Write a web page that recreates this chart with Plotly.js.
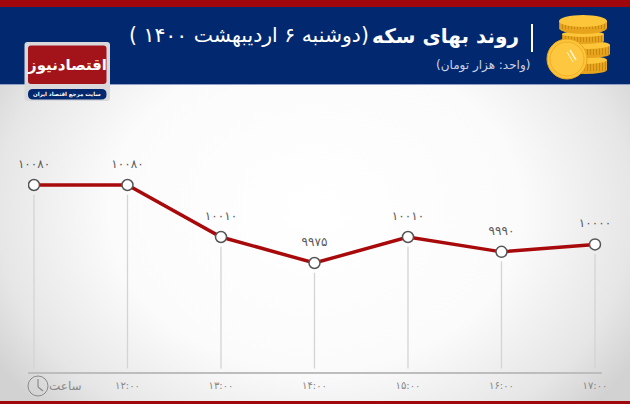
<!DOCTYPE html>
<html>
<head>
<meta charset="utf-8">
<script src="https://cdn.plot.ly/plotly-3.0.1.min.js"></script>
<style>
    html, body { margin: 0; padding: 0; }
    body {
        width: 630px;
        height: 404px;
        overflow: hidden;
        background: radial-gradient(ellipse 375px 290px at 50% 52%, #ffffff 0%, #fbfbfb 55%, #e6e6e6 85%, #d2d2d2 100%);
    }
    #myPlot { width: 630px; height: 404px; }
    .textpoint text { letter-spacing: 3px; font-weight: bold; }
</style>
</head>
<body>
<div id="myPlot"></div>
<script>
// chart values
const hours = [0, 1, 2, 3, 4, 5, 6];
const hourLabels = ['', '۱۲:۰۰', '۱۳:۰۰', '۱۴:۰۰', '۱۵:۰۰', '۱۶:۰۰', '۱۷:۰۰'];
const prices = [10080, 10080, 10010, 9975, 10010, 9990, 10000];
const priceLabels = ['۱۰۰۸۰', '۱۰۰۸۰', '۱۰۰۱۰', '۹۹۷۵', '۱۰۰۱۰', '۹۹۹۰', '۱۰۰۰۰'];

const FONT = '"DejaVu Sans", "Noto Sans", sans-serif';
const Y_MIN = 9828.3;
const STEM_BOTTOM = 9833;
const STEM_GAP = 13; // stems stop a little under the marker
const LABEL_LIFT = 27; // labels sit this far over the point

// page pixels to paper coordinates of the plot area
const PLOT_L = 28, PLOT_R = 602, PLOT_T = 100, PLOT_B = 372;
const px = (x) => (x - PLOT_L) / (PLOT_R - PLOT_L);
const py = (y) => (PLOT_B - y) / (PLOT_B - PLOT_T);

// stems from the axis up to each point
let stemX = [];
let stemY = [];
for (let i = 0; i < hours.length; i++) {
    stemX.push(hours[i], hours[i], null);
    stemY.push(STEM_BOTTOM, prices[i] - STEM_GAP, null);
}

let stems = {
    x: stemX,
    y: stemY,
    mode: 'lines',
    line: { color: '#d4d4d4', width: 1.3 },
    hoverinfo: 'skip'
};

let priceLine = {
    x: hours,
    y: prices,
    mode: 'lines+markers',
    line: { color: '#a80a0c', width: 3.5 },
    marker: { size: 11, color: '#ffffff', line: { color: '#555555', width: 1.5 } }
};

let priceText = {
    x: hours,
    y: prices.map((v) => v + LABEL_LIFT),
    mode: 'text',
    text: priceLabels,
    textposition: 'middle center',
    textfont: { family: FONT, size: 12, color: '#5a5a5a' },
    cliponaxis: false
};

// header and logo pieces
function rect(x0, y0, x1, y1, color) {
    return { type: 'rect', xref: 'paper', yref: 'paper', x0: px(x0), x1: px(x1), y0: py(y0), y1: py(y1), fillcolor: color, line: { width: 0 } };
}

function ellipse(cx, cy, rx, ry, color, lineColor) {
    return {
        type: 'circle', xref: 'paper', yref: 'paper',
        x0: px(cx - rx), x1: px(cx + rx), y0: py(cy - ry), y1: py(cy + ry),
        fillcolor: color,
        line: lineColor ? { color: lineColor, width: 1 } : { width: 0 }
    };
}

function roundRect(x0, y0, x1, y1, r, color) {
    const p = (x, y) => px(x) + ' ' + py(y);
    const path = 'M ' + p(x0 + r, y0) + ' L ' + p(x1 - r, y0) + ' Q ' + p(x1, y0) + ' ' + p(x1, y0 + r) +
        ' L ' + p(x1, y1 - r) + ' Q ' + p(x1, y1) + ' ' + p(x1 - r, y1) +
        ' L ' + p(x0 + r, y1) + ' Q ' + p(x0, y1) + ' ' + p(x0, y1 - r) +
        ' L ' + p(x0, y0 + r) + ' Q ' + p(x0, y0) + ' ' + p(x0 + r, y0) + ' Z';
    return { type: 'path', xref: 'paper', yref: 'paper', path: path, fillcolor: color, line: { width: 0 } };
}

function segment(x0, y0, x1, y1, color, width, dash) {
    return {
        type: 'line', xref: 'paper', yref: 'paper',
        x0: px(x0), x1: px(x1), y0: py(y0), y1: py(y1),
        line: { color: color, width: width, dash: dash || 'solid' }
    };
}

// one coin of the stack: edge with ridges and a flat top
function coin(cx, top, rx, ry, h) {
    return [
        ellipse(cx, top + ry + h, rx, ry, '#e8a31c'),
        rect(cx - rx, top + ry, cx + rx, top + ry + h, '#e8a31c'),
        segment(cx - rx, top + ry + h / 2 + 1, cx + rx, top + ry + h / 2 + 1, '#c98a12', h, '1px,2px'),
        ellipse(cx, top + ry, rx, ry, '#fcc53a')
    ];
}

let shapes = [
    rect(0, 0, 630, 84, '#02296f'),
    rect(0, 0, 630, 7, '#a0070d'),
    rect(0, 84, 630, 85, '#8fa0c4'),
    rect(0, 401, 630, 404, '#a0070d'),
    segment(532, 24, 532, 52, '#ffffff', 2)
];

shapes = shapes.concat(
    coin(585, 56, 22, 4, 10),
    coin(588, 41, 22, 4, 9),
    coin(583, 31, 21, 3, 7),
    coin(583, 15, 24, 6, 7)
);
shapes.push(ellipse(567, 59, 20, 20, '#fcc53a', '#e8a31c'));
shapes.push(ellipse(567, 59, 17, 17, '#fdc840', '#f0ae28'));
shapes.push(segment(570, 50, 576, 60, '#fff3c4', 1.6));
shapes.push(segment(567, 52, 573, 62, '#fff3c4', 1));

// logo
shapes.push(roundRect(24.5, 42, 110, 101, 3, '#d9d9dc'));
shapes.push(roundRect(28, 45.5, 106.5, 84, 3, '#a2141a'));
shapes.push(roundRect(28, 89, 106.5, 99.5, 5, '#02296f'));

// clock next to the hour axis
shapes.push(ellipse(38, 386, 10, 10, 'rgba(0,0,0,0)', '#8a8a8a'));
shapes.push(segment(38, 379, 38, 387, '#8a8a8a', 1.2));
shapes.push(segment(38, 387, 43, 391, '#8a8a8a', 1.2));

function label(x, y, text, size, color, anchor, bold) {
    return {
        xref: 'paper', yref: 'paper', x: px(x), y: py(y),
        xanchor: anchor, yanchor: 'middle', showarrow: false,
        text: bold ? '<b>' + text + '</b>' : text,
        font: { family: FONT, size: size, color: color }
    };
}

let annotations = [
    label(521, 36, 'روند بهای سکه', 20, '#ffffff', 'right', true),
    label(371, 35, '\u200F(دوشنبه ۶ اردیبهشت ۱۴۰۰ )\u200F', 20.4, '#ffffff', 'right', false),
    label(532, 65, '\u200F(واحد: هزار تومان)\u200F', 12, '#c9d2e6', 'right', false),
    label(67, 65, 'اقتصادنیوز', 15, '#ffffff', 'center', true),
    label(67, 94, 'سایت مرجع اقتصاد ایران', 5.5, '#ffffff', 'center', true),
    label(65, 386, 'ساعت', 12, '#888888', 'center', false)
];

let layout = {
    width: 630,
    height: 404,
    margin: { l: PLOT_L, r: 630 - PLOT_R, t: PLOT_T, b: 404 - PLOT_B, pad: 0 },
    paper_bgcolor: 'rgba(0,0,0,0)',
    plot_bgcolor: 'rgba(0,0,0,0)',
    showlegend: false,
    xaxis: {
        range: [-0.064, 6.075],
        tickmode: 'array',
        tickvals: hours,
        ticktext: hourLabels,
        ticks: 'outside',
        ticklen: 3,
        tickcolor: 'rgba(0,0,0,0)',
        showgrid: false,
        zeroline: false,
        showline: true,
        linecolor: '#bdbdbd',
        linewidth: 2,
        tickfont: { family: FONT, size: 10, color: '#888888' }
    },
    yaxis: {
        range: [Y_MIN, 10194.4],
        visible: false,
        showgrid: false,
        zeroline: false
    },
    shapes: shapes,
    annotations: annotations
};

Plotly.newPlot('myPlot', [stems, priceLine, priceText], layout, { staticPlot: true, displayModeBar: false });
</script>
</body>
</html>
